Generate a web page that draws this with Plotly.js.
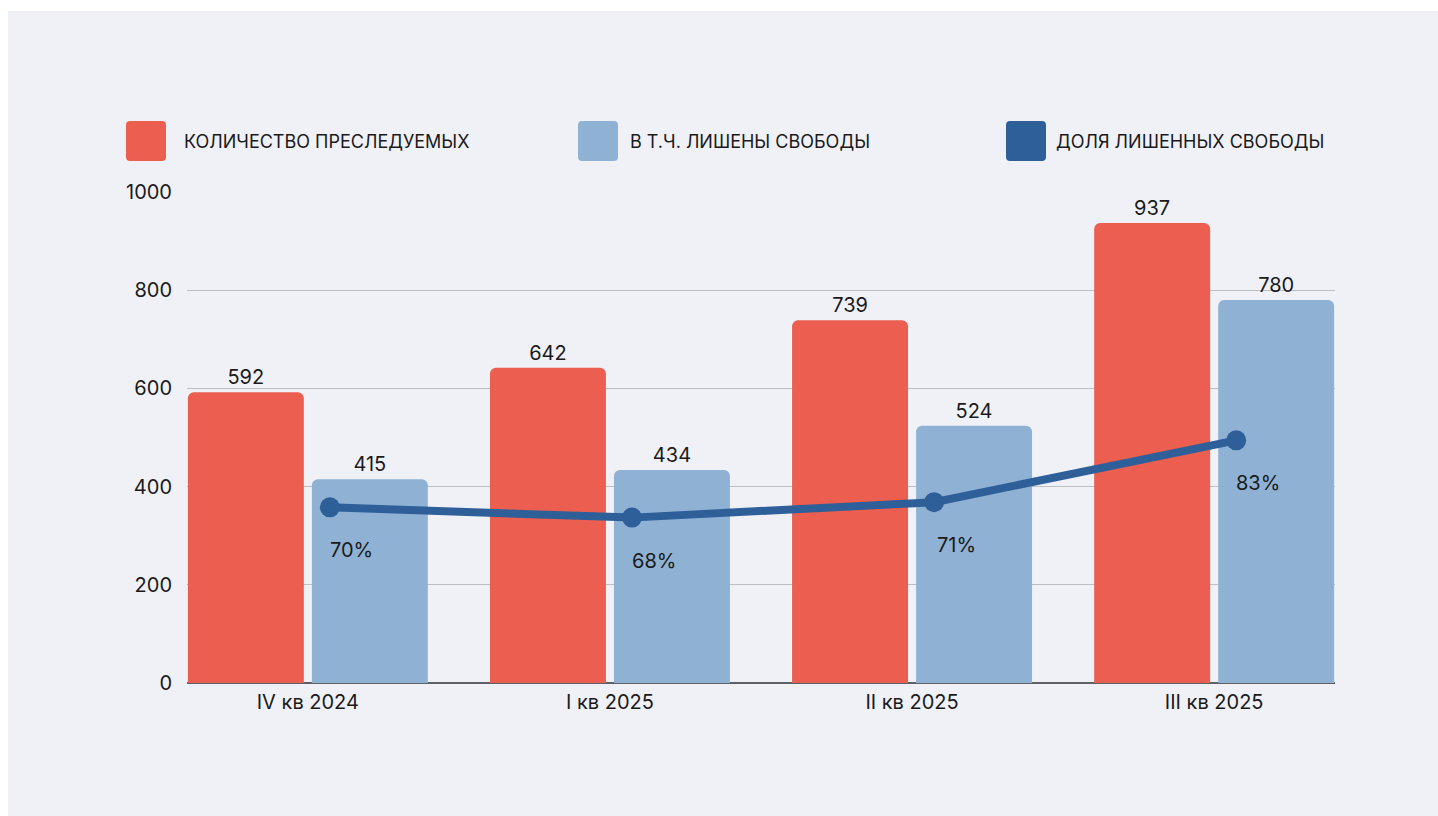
<!DOCTYPE html>
<html>
<head>
<meta charset="utf-8">
<script src="https://cdn.plot.ly/plotly-3.0.1.min.js"></script>
<style>
  body { margin: 0; background: #ffffff; }
  #chart { position: absolute; left: 8px; top: 11px; width: 1430px; height: 805px; }
</style>
</head>
<body>
<div id="chart"></div>
<script>
// Data
let quarters = ["IV кв 2024", "I кв 2025", "II кв 2025", "III кв 2025"];
let prosecuted = [592, 642, 739, 937];
let imprisoned = [415, 434, 524, 780];
let sharePct = [70, 68, 71, 83];
let seriesNames = ["КОЛИЧЕСТВО ПРЕСЛЕДУЕМЫХ", "В Т.Ч. ЛИШЕНЫ СВОБОДЫ", "ДОЛЯ ЛИШЕННЫХ СВОБОДЫ"];
let seriesColors = ["#ec5e50", "#8fb2d4", "#2f5f99"];

let font = "Inter, 'Noto Sans', sans-serif";

// plot area in page pixels (used only to place the hand-made legend)
let plotLeft = 187, plotRight = 1335, plotTop = 192, plotBottom = 683;
function px(x) { return (x - plotLeft) / (plotRight - plotLeft); }
function py(y) { return (plotBottom - y) / (plotBottom - plotTop); }

function roundSquare(x0, y0, s, r) {
  let a = px(x0), b = px(x0 + r), c = px(x0 + s - r), d = px(x0 + s);
  let e = py(y0), f = py(y0 + r), g = py(y0 + s - r), h = py(y0 + s);
  return "M" + b + "," + e + " L" + c + "," + e + " Q" + d + "," + e + " " + d + "," + f +
         " L" + d + "," + g + " Q" + d + "," + h + " " + c + "," + h +
         " L" + b + "," + h + " Q" + a + "," + h + " " + a + "," + g +
         " L" + a + "," + f + " Q" + a + "," + e + " " + b + "," + e + " Z";
}

let trace1 = {
  x: quarters,
  y: prosecuted,
  type: "bar",
  name: seriesNames[0],
  marker: { color: seriesColors[0] },
  text: prosecuted.map(String),
  textposition: "outside",
  textfont: { family: font, size: 20, color: "#1a1a1a" },
  cliponaxis: false,
  hoverinfo: "y"
};
let trace2 = {
  x: quarters,
  y: imprisoned,
  type: "bar",
  name: seriesNames[1],
  marker: { color: seriesColors[1] },
  text: imprisoned.map(String),
  textposition: "outside",
  textfont: { family: font, size: 20, color: "#1a1a1a" },
  cliponaxis: false,
  hoverinfo: "y"
};
let trace3 = {
  x: quarters,
  y: sharePct,
  xaxis: "x2",
  yaxis: "y2",
  type: "scatter",
  mode: "lines+markers",
  name: seriesNames[2],
  line: { color: seriesColors[2], width: 8 },
  marker: { color: seriesColors[2], size: 20 },
  cliponaxis: false
};

// percentage labels under the line points
let annotations = sharePct.map((v, i) => ({
  x: quarters[i], y: v, xref: "x2", yref: "y2",
  text: v + "%", showarrow: false,
  xshift: 22, yshift: -43,
  font: { family: font, size: 20, color: "#1a1a1a" }
}));

// legend: big rounded squares + text
let legendSquares = [126, 578, 1006];
let legendText = [182, 628, 1054];
let shapes = [];
seriesNames.forEach((n, i) => {
  shapes.push({
    type: "path", xref: "paper", yref: "paper",
    path: roundSquare(legendSquares[i], 121, 40, 4),
    fillcolor: seriesColors[i], line: { width: 0 }
  });
  annotations.push({
    x: px(legendText[i]), y: py(141), xref: "paper", yref: "paper",
    xanchor: "left", yanchor: "middle", showarrow: false,
    text: n, font: { family: font, size: 18, color: "#1a1a1a" }
  });
});

let layout = {
  width: 1430,
  height: 805,
  autosize: false,
  margin: { l: 179, r: 103, t: 181, b: 133 },
  paper_bgcolor: "#f0f1f7",
  plot_bgcolor: "#f0f1f7",
  font: { family: font, size: 20, color: "#1a1a1a" },
  showlegend: false,
  barmode: "group",
  bargap: 0.179,
  bargroupgap: 0.065,
  barcornerradius: 6,
  xaxis: {
    type: "category",
    range: [-0.4, 3.4],
    showgrid: false,
    showline: false,
    ticks: "",
    tickfont: { family: font, size: 20, color: "#1a1a1a" },
    ticklabelstandoff: 5
  },
  yaxis: {
    range: [0, 1000],
    tickvals: [0, 200, 400, 600, 800, 1000],
    gridcolor: "#bdbec4",
    gridwidth: 1.3,
    zeroline: true,
    zerolinecolor: "#5e6068",
    zerolinewidth: 1.3,
    showline: false,
    ticks: "",
    ticklabelstandoff: 14,
    tickfont: { family: font, size: 20, color: "#1a1a1a" }
  },
  xaxis2: {
    type: "category",
    overlaying: "x",
    range: [-0.473, 3.327],
    visible: false
  },
  yaxis2: {
    overlaying: "y",
    side: "right",
    range: [35.9, 131.2],
    visible: false
  },
  shapes: shapes,
  annotations: annotations
};

Plotly.newPlot("chart", [trace1, trace2, trace3], layout, { displayModeBar: false, staticPlot: true });
</script>
</body>
</html>
